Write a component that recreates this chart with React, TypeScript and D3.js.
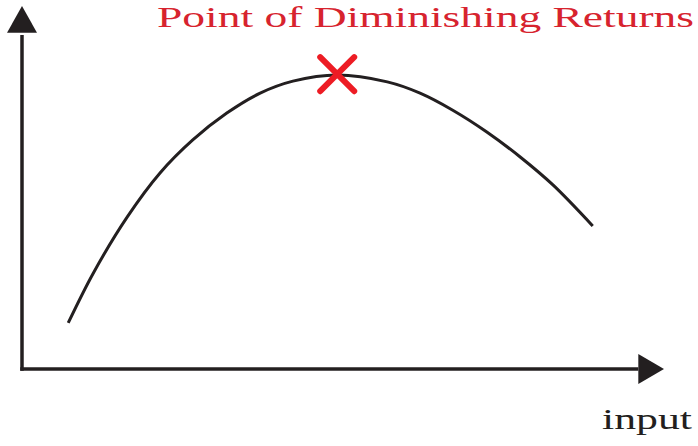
import React, { useRef, useEffect } from 'react';
import * as d3 from 'd3';

// curve samples (input vs output, arbitrary 0-100 units)
const inputValues = [7.2, 11.1, 16.4, 21.5, 26.6, 31.9, 37.1, 42.2, 49.1, 56.9, 62.0, 67.1, 72.4, 77.6, 82.7, 88.9];
const outputValues = [12.7, 26.4, 41.9, 54.0, 63.1, 70.5, 76.0, 79.3, 81.0, 79.1, 76.0, 71.3, 65.3, 58.4, 50.7, 39.4];

// point of diminishing returns
const peakInput = [49.1];
const peakOutput = [81.2];

const titleText = 'Point of Diminishing Returns';
const xLabel = 'input';

const WIDTH = 698;
const HEIGHT = 446;

function App() {
  const svgRef = useRef<SVGSVGElement>(null);

  useEffect(() => {
    const svg = d3.select(svgRef.current);
    svg.selectAll('*').remove();

    const ink = '#231f20';
    const red = '#ed1c24';

    const x = d3.scaleLinear().domain([0, 100]).range([22, 664]);
    const y = d3.scaleLinear().domain([0, 100]).range([369, 6]);

    // axes
    svg.append('line')
      .attr('x1', x(0)).attr('x2', x(0))
      .attr('y1', y(0) + 1.75).attr('y2', y(92))
      .attr('stroke', ink).attr('stroke-width', 3.5);

    svg.append('line')
      .attr('x1', x(0) - 1.75).attr('x2', x(96))
      .attr('y1', y(0)).attr('y2', y(0))
      .attr('stroke', ink).attr('stroke-width', 3.5);

    // arrowheads
    svg.append('path')
      .attr('d', `M${x(0)},${y(100)}L${x(0) + 15},${y(92.6)}L${x(0) - 15},${y(92.6)}Z`)
      .attr('fill', ink);

    svg.append('path')
      .attr('d', `M${x(100)},${y(0)}L${x(96)},${y(0) - 15}L${x(96)},${y(0) + 15}Z`)
      .attr('fill', ink);

    // curve
    const pts = inputValues.map((v, i) => [v, outputValues[i]] as [number, number]);
    const line = d3.line<[number, number]>()
      .x(d => x(d[0]))
      .y(d => y(d[1]))
      .curve(d3.curveCatmullRom);

    svg.append('path')
      .datum(pts)
      .attr('d', line)
      .attr('fill', 'none')
      .attr('stroke', ink)
      .attr('stroke-width', 3);

    // red cross marker
    const s = 17;
    peakInput.forEach((v, i) => {
      const cx = x(v);
      const cy = y(peakOutput[i]);
      const g = svg.append('g')
        .attr('stroke', red)
        .attr('stroke-width', 6)
        .attr('stroke-linecap', 'round');
      g.append('line').attr('x1', cx - s).attr('y1', cy - s).attr('x2', cx + s).attr('y2', cy + s);
      g.append('line').attr('x1', cx - s).attr('y1', cy + s).attr('x2', cx + s).attr('y2', cy - s);
    });

    // title
    svg.append('text')
      .attr('x', 157)
      .attr('y', 27)
      .attr('textLength', 537)
      .attr('lengthAdjust', 'spacingAndGlyphs')
      .attr('font-family', '"Liberation Serif", serif')
      .attr('font-size', 30)
      .attr('fill', '#d7232e')
      .text(titleText);

    // x label
    svg.append('text')
      .attr('x', 602)
      .attr('y', 429)
      .attr('textLength', 90)
      .attr('lengthAdjust', 'spacingAndGlyphs')
      .attr('font-family', '"Liberation Serif", serif')
      .attr('font-size', 30)
      .attr('fill', ink)
      .text(xLabel);
  }, []);

  return (
    <svg
      ref={svgRef}
      width={WIDTH}
      height={HEIGHT}
      style={{ position: 'absolute', left: 0, top: 0, background: '#fff' }}
    />
  );
}

export default App;
